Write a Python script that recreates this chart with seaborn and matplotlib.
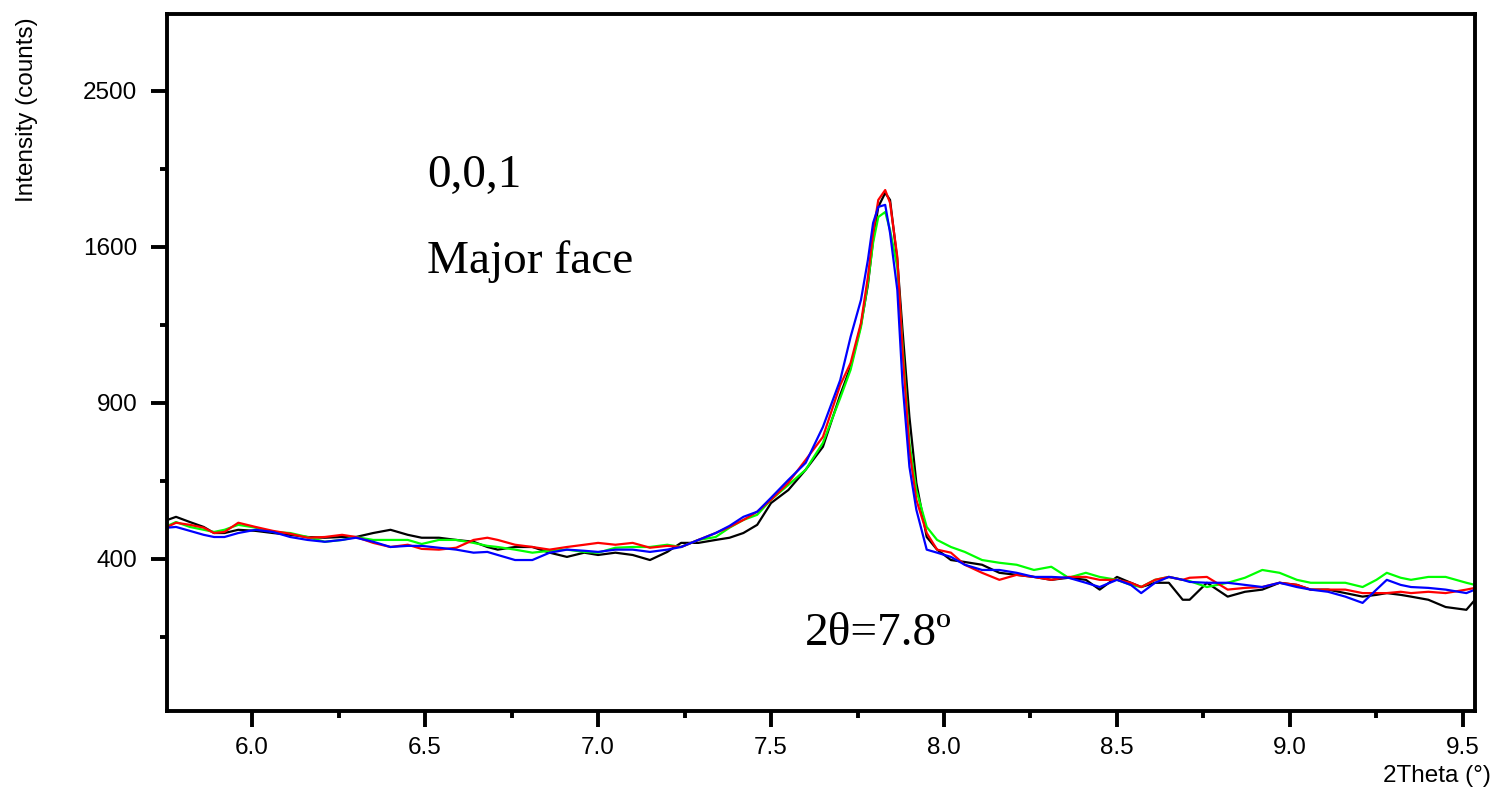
import numpy as np
import pandas as pd
import matplotlib
matplotlib.use("Agg")
import matplotlib.pyplot as plt
import seaborn as sns
from matplotlib.ticker import FixedLocator, FixedFormatter

# ---- data ----
two_theta = [5.755, 5.78, 5.82, 5.86, 5.89, 5.92, 5.96, 6.01, 6.06, 6.11,
             6.16, 6.21, 6.26, 6.30, 6.35, 6.40, 6.45, 6.49, 6.54, 6.59,
             6.64, 6.68, 6.71, 6.76, 6.81, 6.86, 6.91, 6.96, 7.00, 7.05,
             7.10, 7.15, 7.20, 7.24, 7.29, 7.34, 7.38, 7.42, 7.46, 7.50,
             7.55, 7.60, 7.65, 7.70, 7.73, 7.76, 7.78, 7.795, 7.81, 7.83,
             7.844, 7.865, 7.88, 7.90, 7.92, 7.95, 7.98, 8.02, 8.06, 8.11,
             8.16, 8.21, 8.26, 8.31, 8.36, 8.41, 8.45, 8.50, 8.54, 8.57,
             8.61, 8.65, 8.69, 8.71, 8.76, 8.82, 8.87, 8.92, 8.97, 9.02,
             9.06, 9.11, 9.16, 9.21, 9.25, 9.28, 9.32, 9.35, 9.40, 9.45,
             9.51, 9.535]

black_counts = [506, 515, 500, 486, 469, 469, 478, 475, 469, 464,
                458, 456, 458, 458, 469, 478, 464, 456, 456, 450,
                445, 431, 424, 431, 431, 416, 405, 416, 410, 416,
                410, 397, 418, 442, 442, 450, 456, 469, 492, 556,
                596, 661, 739, 931, 1044, 1225, 1411, 1636, 1812, 1889,
                1850, 1534, 1203, 847, 619, 458, 424, 397, 392, 385,
                365, 360, 355, 348, 353, 348, 325, 355, 341, 331,
                341, 341, 302, 302, 341, 309, 320, 325, 341, 336,
                325, 325, 317, 309, 313, 317, 313, 309, 302, 286,
                280, 302]

green_counts = [489, 500, 486, 478, 472, 478, 492, 484, 472, 469,
                458, 445, 450, 458, 450, 450, 450, 439, 450, 450,
                442, 434, 431, 424, 416, 421, 424, 418, 416, 429,
                431, 431, 437, 431, 450, 458, 484, 506, 521, 566,
                612, 661, 753, 919, 1032, 1216, 1421, 1621, 1757, 1784,
                1688, 1499, 1137, 753, 596, 486, 450, 431, 418, 397,
                390, 385, 372, 380, 353, 365, 355, 348, 336, 331,
                348, 355, 348, 345, 331, 341, 353, 372, 365, 348,
                341, 341, 341, 331, 348, 365, 353, 348, 355, 355,
                341, 336]

red_counts = [486, 498, 492, 484, 469, 472, 498, 486, 475, 467,
              456, 458, 464, 458, 442, 431, 437, 426, 424, 429,
              450, 456, 450, 437, 431, 424, 431, 437, 442, 437,
              442, 429, 434, 431, 450, 469, 486, 506, 530, 566,
              619, 694, 774, 970, 1060, 1234, 1450, 1673, 1850, 1905,
              1834, 1549, 1116, 728, 566, 469, 424, 416, 385, 365,
              348, 360, 355, 348, 355, 355, 348, 348, 341, 331,
              348, 355, 348, 353, 355, 325, 329, 331, 341, 336,
              325, 325, 325, 317, 317, 317, 320, 317, 320, 317,
              325, 329]

blue_counts = [484, 486, 475, 464, 458, 458, 469, 478, 472, 458,
               450, 445, 450, 456, 445, 431, 434, 434, 429, 424,
               416, 418, 410, 397, 397, 416, 424, 421, 418, 424,
               424, 418, 424, 431, 450, 469, 489, 515, 530, 572,
               628, 684, 810, 990, 1172, 1340, 1534, 1725, 1812, 1823,
               1673, 1387, 979, 671, 536, 424, 416, 405, 385, 372,
               372, 365, 355, 355, 353, 341, 331, 348, 336, 317,
               341, 355, 348, 343, 341, 341, 336, 331, 341, 331,
               325, 320, 309, 295, 325, 348, 336, 331, 329, 325,
               317, 325]

series_names = ["black", "green", "red", "blue"]
series_colors = ["#000000", "#00ff00", "#ff0000", "#0000ff"]

x_major = [6.0, 6.5, 7.0, 7.5, 8.0, 8.5, 9.0, 9.5]
x_minor = [6.25, 6.75, 7.25, 7.75, 8.25, 8.75, 9.25]
y_major = [400, 900, 1600, 2500]
y_minor = [225, 625, 1225, 2025]

# ---- build long table ----
frames = []
for name, vals in zip(series_names, [black_counts, green_counts, red_counts, blue_counts]):
    frames.append(pd.DataFrame({"x": two_theta, "y": vals, "s": name}))
df = pd.concat(frames, ignore_index=True)

sns.set_style("ticks")
plt.rcParams["font.family"] = ["Liberation Sans", "DejaVu Sans"]
plt.rcParams["text.color"] = "black"

fig = plt.figure(figsize=(14.94, 7.89), dpi=100)
ax = fig.add_axes([0.1118, 0.0989, 0.8755, 0.8834])

ax.set_yscale("function", functions=(lambda v: np.sqrt(np.clip(v, 0, None)), lambda v: v ** 2))

sns.lineplot(data=df, x="x", y="y", hue="s", hue_order=series_names,
             palette=series_colors, linewidth=1.6, legend=False, ax=ax,
             estimator=None, sort=False)

ax.set_xlim(5.754, 9.535)
ax.set_ylim(105, 3018)

ax.xaxis.set_major_locator(FixedLocator(x_major))
ax.xaxis.set_major_formatter(FixedFormatter([f"{v:.1f}" for v in x_major]))
ax.xaxis.set_minor_locator(FixedLocator(x_minor))
ax.yaxis.set_major_locator(FixedLocator(y_major))
ax.yaxis.set_major_formatter(FixedFormatter([str(v) for v in y_major]))
ax.yaxis.set_minor_locator(FixedLocator(y_minor))
ax.yaxis.set_minor_formatter(FixedFormatter([""] * len(y_minor)))

for side in ["left", "right", "top", "bottom"]:
    ax.spines[side].set_visible(True)
    ax.spines[side].set_linewidth(2.8)
    ax.spines[side].set_color("black")

ax.tick_params(axis="both", which="major", direction="out", length=11.5, width=2.8,
               labelsize=17.5, color="black", labelcolor="black")
ax.tick_params(axis="both", which="minor", direction="out", length=5, width=2.8, color="black")
ax.tick_params(axis="y", which="major", pad=10)
ax.tick_params(axis="x", which="major", pad=7)
ax.tick_params(top=False, right=False, which="both")

ax.set_xlabel("")
ax.set_ylabel("")

fig.text(27 / 1494, 1 - 110 / 789, "Intensity (counts)", rotation=90,
         ha="center", va="center", fontsize=17.5, color="black")
fig.text(1491 / 1494, 1 - 776 / 789, "2Theta (°)", ha="right", va="center",
         fontsize=17.5, color="black")

serif = ["Liberation Serif", "DejaVu Serif"]
ax.text(0.1988, 0.752, "0,0,1", transform=ax.transAxes, family=serif,
        fontsize=34, ha="left", va="baseline", color="black")
ax.text(0.1988, 0.628, "Major face", transform=ax.transAxes, family=serif,
        fontsize=34, ha="left", va="baseline", color="black")
ax.text(0.4878, 0.0947, "2θ=7.8º", transform=ax.transAxes, family=serif,
        fontsize=34, ha="left", va="baseline", color="black")

fig.savefig("out.png", dpi=100)
